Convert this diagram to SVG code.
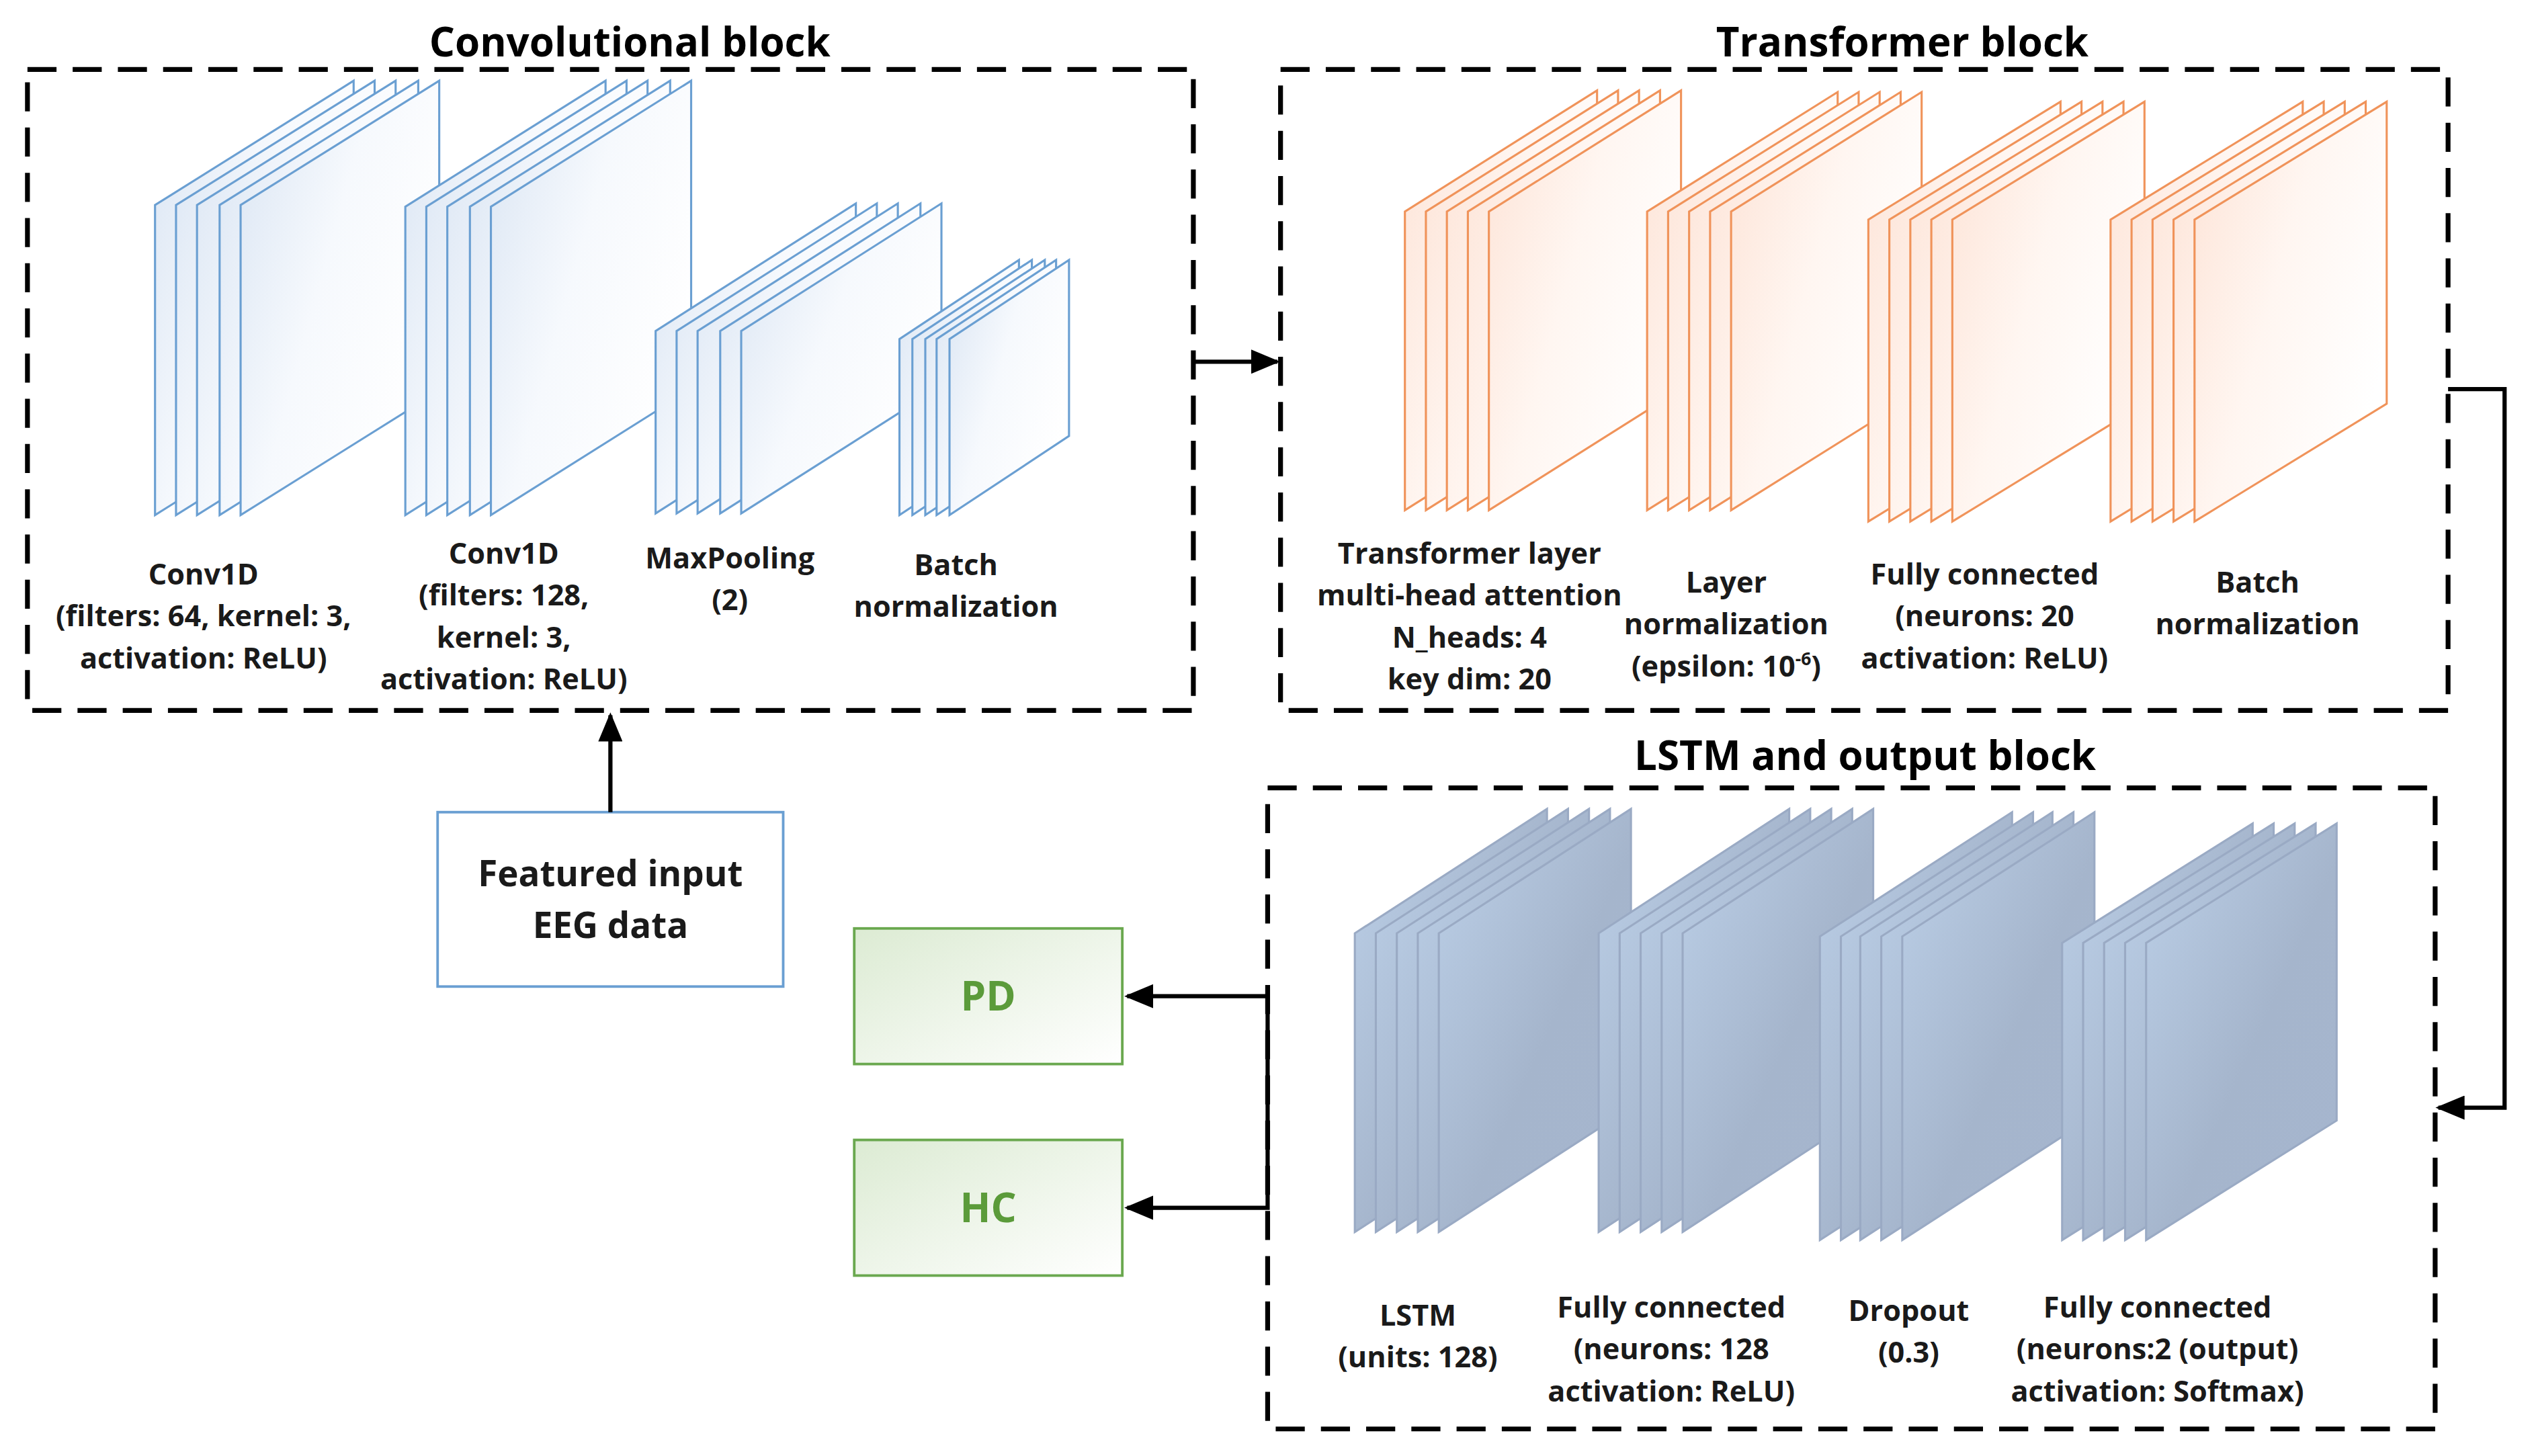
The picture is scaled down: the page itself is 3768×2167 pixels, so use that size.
<svg xmlns="http://www.w3.org/2000/svg" xmlns:xlink="http://www.w3.org/1999/xlink" width="3768" height="2167" viewBox="0 0 3768 2167">
<defs>
<linearGradient id="gb" x1="0" y1="0" x2="1" y2="0.6"><stop offset="0" stop-color="#dae5f3"/><stop offset="0.5" stop-color="#f6f9fd"/><stop offset="1" stop-color="#ffffff"/></linearGradient>
<linearGradient id="go" x1="0" y1="0" x2="1" y2="0.6"><stop offset="0" stop-color="#fde3d6"/><stop offset="0.5" stop-color="#fff6f1"/><stop offset="1" stop-color="#ffffff"/></linearGradient>
<linearGradient id="gs" x1="0" y1="0" x2="1" y2="1"><stop offset="0" stop-color="#bcd0e8"/><stop offset="0.55" stop-color="#a5b5cc"/><stop offset="1" stop-color="#a6b6cf"/></linearGradient>
<linearGradient id="gg" x1="0" y1="0" x2="1" y2="1"><stop offset="0" stop-color="#dcebd3"/><stop offset="1" stop-color="#ffffff"/></linearGradient>
<marker id="ah" viewBox="0 0 10 10" refX="9" refY="5" markerWidth="18" markerHeight="15" markerUnits="userSpaceOnUse" orient="auto" preserveAspectRatio="none"><path d="M0,0 L10,5 L0,10 z" fill="#000"/></marker>
</defs>
<style>
.blk{fill:none;stroke:#000;stroke-width:3;stroke-dasharray:18 10}
.ttl{font-family:"Open Sans","Liberation Sans",sans-serif;font-weight:bold;font-size:25px;text-anchor:middle;fill:#000}
.lb{font-family:"Open Sans","Liberation Sans",sans-serif;font-weight:bold;font-size:18px;text-anchor:middle;fill:#1a1a1a}
.sb{stroke:#6a9fd2;stroke-width:1.3;fill:url(#gb)}
.so{stroke:#f0935a;stroke-width:1.3;fill:url(#go)}
.ss{stroke:#9aaac4;stroke-width:1.3;fill:url(#gs)}
.con{fill:none;stroke:#000;stroke-width:2.6}
</style>
<rect width="3768" height="2167" fill="#fff"/>
<g transform="scale(2.4031)">
<g id="conv-block">
<rect class="blk" x="17" y="43" width="722" height="397"/>
<text class="ttl" x="390" y="35">Convolutional block</text>
</g>
<g id="transformer-block">
<rect class="blk" x="793" y="43" width="723" height="397"/>
<text class="ttl" x="1178" y="35">Transformer block</text>
</g>
<g id="lstm-block">
<rect class="blk" x="785" y="488" width="723" height="397"/>
<text class="ttl" x="1155" y="477">LSTM and output block</text>
</g>

<g id="conv1">
<path class="sb" d="M96,319 V127 L219,50 V242 Z"/>
<path class="sb" d="M109,319 V127 L232,50 V242 Z"/>
<path class="sb" d="M122,319 V127 L245,50 V242 Z"/>
<path class="sb" d="M136,319 V127 L259,50 V242 Z"/>
<path class="sb" d="M149,319 V127 L272,50 V242 Z"/>
<text class="lb" x="126" y="362">Conv1D</text><text class="lb" x="126" y="388">(filters: 64, kernel: 3,</text><text class="lb" x="126" y="414">activation: ReLU)</text>
</g>
<g id="conv2">
<path class="sb" d="M251,319 V128 L375,50 V241 Z"/>
<path class="sb" d="M264,319 V128 L388,50 V241 Z"/>
<path class="sb" d="M277,319 V128 L401,50 V241 Z"/>
<path class="sb" d="M291,319 V128 L415,50 V241 Z"/>
<path class="sb" d="M304,319 V128 L428,50 V241 Z"/>
<text class="lb" x="312" y="349">Conv1D</text><text class="lb" x="312" y="375">(filters: 128,</text><text class="lb" x="312" y="401">kernel: 3,</text><text class="lb" x="312" y="427">activation: ReLU)</text>
</g>
<g id="maxpool">
<path class="sb" d="M406,318 V205 L530,126 V239 Z"/>
<path class="sb" d="M419,318 V205 L543,126 V239 Z"/>
<path class="sb" d="M432,318 V205 L556,126 V239 Z"/>
<path class="sb" d="M446,318 V205 L570,126 V239 Z"/>
<path class="sb" d="M459,318 V205 L583,126 V239 Z"/>
<text class="lb" x="452" y="352">MaxPooling</text><text class="lb" x="452" y="378">(2)</text>
</g>
<g id="bn1">
<path class="sb" d="M557,319 V210 L631,161 V270 Z"/>
<path class="sb" d="M565,319 V210 L639,161 V270 Z"/>
<path class="sb" d="M573,319 V210 L647,161 V270 Z"/>
<path class="sb" d="M580,319 V210 L654,161 V270 Z"/>
<path class="sb" d="M588,319 V210 L662,161 V270 Z"/>
<text class="lb" x="592" y="356">Batch</text><text class="lb" x="592" y="382">normalization</text>
</g>

<g id="transformer-layer">
<path class="so" d="M870,316 V131 L989,56 V241 Z"/>
<path class="so" d="M883,316 V131 L1002,56 V241 Z"/>
<path class="so" d="M896,316 V131 L1015,56 V241 Z"/>
<path class="so" d="M909,316 V131 L1028,56 V241 Z"/>
<path class="so" d="M922,316 V131 L1041,56 V241 Z"/>
<text class="lb" x="910" y="349">Transformer layer</text><text class="lb" x="910" y="375">multi-head attention</text><text class="lb" x="910" y="401">N_heads: 4</text><text class="lb" x="910" y="427">key dim: 20</text>
</g>
<g id="layer-norm">
<path class="so" d="M1020,316 V131 L1138,57 V242 Z"/>
<path class="so" d="M1033,316 V131 L1151,57 V242 Z"/>
<path class="so" d="M1046,316 V131 L1164,57 V242 Z"/>
<path class="so" d="M1059,316 V131 L1177,57 V242 Z"/>
<path class="so" d="M1072,316 V131 L1190,57 V242 Z"/>
<text class="lb" x="1069" y="367">Layer</text><text class="lb" x="1069" y="393">normalization</text><text class="lb" x="1069" y="419">(epsilon: 10<tspan font-size="11" dy="-7">-6</tspan><tspan dy="7">)</tspan></text>
</g>
<g id="fc20">
<path class="so" d="M1157,323 V136 L1276,63 V250 Z"/>
<path class="so" d="M1170,323 V136 L1289,63 V250 Z"/>
<path class="so" d="M1183,323 V136 L1302,63 V250 Z"/>
<path class="so" d="M1196,323 V136 L1315,63 V250 Z"/>
<path class="so" d="M1209,323 V136 L1328,63 V250 Z"/>
<text class="lb" x="1229" y="362">Fully connected</text><text class="lb" x="1229" y="388">(neurons: 20</text><text class="lb" x="1229" y="414">activation: ReLU)</text>
</g>
<g id="bn2">
<path class="so" d="M1307,323 V136 L1426,63 V250 Z"/>
<path class="so" d="M1320,323 V136 L1439,63 V250 Z"/>
<path class="so" d="M1333,323 V136 L1452,63 V250 Z"/>
<path class="so" d="M1346,323 V136 L1465,63 V250 Z"/>
<path class="so" d="M1359,323 V136 L1478,63 V250 Z"/>
<text class="lb" x="1398" y="367">Batch</text><text class="lb" x="1398" y="393">normalization</text>
</g>

<g id="lstm">
<path class="ss" d="M839,763 V578 L958,501 V686 Z"/>
<path class="ss" d="M852,763 V578 L971,501 V686 Z"/>
<path class="ss" d="M865,763 V578 L984,501 V686 Z"/>
<path class="ss" d="M878,763 V578 L997,501 V686 Z"/>
<path class="ss" d="M891,763 V578 L1010,501 V686 Z"/>
<text class="lb" x="878" y="821">LSTM</text><text class="lb" x="878" y="847">(units: 128)</text>
</g>
<g id="fc128">
<path class="ss" d="M990,763 V578 L1108,501 V686 Z"/>
<path class="ss" d="M1003,763 V578 L1121,501 V686 Z"/>
<path class="ss" d="M1016,763 V578 L1134,501 V686 Z"/>
<path class="ss" d="M1029,763 V578 L1147,501 V686 Z"/>
<path class="ss" d="M1042,763 V578 L1160,501 V686 Z"/>
<text class="lb" x="1035" y="816">Fully connected</text><text class="lb" x="1035" y="842">(neurons: 128</text><text class="lb" x="1035" y="868">activation: ReLU)</text>
</g>
<g id="dropout">
<path class="ss" d="M1127,768 V580 L1246,503 V691 Z"/>
<path class="ss" d="M1140,768 V580 L1259,503 V691 Z"/>
<path class="ss" d="M1152,768 V580 L1271,503 V691 Z"/>
<path class="ss" d="M1165,768 V580 L1284,503 V691 Z"/>
<path class="ss" d="M1178,768 V580 L1297,503 V691 Z"/>
<text class="lb" x="1182" y="818">Dropout</text><text class="lb" x="1182" y="844">(0.3)</text>
</g>
<g id="fc2">
<path class="ss" d="M1277,768 V584 L1395,510 V694 Z"/>
<path class="ss" d="M1290,768 V584 L1408,510 V694 Z"/>
<path class="ss" d="M1303,768 V584 L1421,510 V694 Z"/>
<path class="ss" d="M1316,768 V584 L1434,510 V694 Z"/>
<path class="ss" d="M1329,768 V584 L1447,510 V694 Z"/>
<text class="lb" x="1336" y="816">Fully connected</text><text class="lb" x="1336" y="842">(neurons:2 (output)</text><text class="lb" x="1336" y="868">activation: Softmax)</text>
</g>

<g id="input">
<rect x="271" y="503" width="214" height="108" fill="#fff" stroke="#6a9fd2" stroke-width="1.6"/>
<text class="lb" style="font-size:22px" x="378" y="549">Featured input</text>
<text class="lb" style="font-size:22px" x="378" y="581">EEG data</text>
</g>
<g id="pd">
<rect x="529" y="575" width="166" height="84" fill="url(#gg)" stroke="#6aa84f" stroke-width="1.6"/>
<text class="lb" style="font-size:25px;fill:#5b9b3a" x="612" y="626">PD</text>
</g>
<g id="hc">
<rect x="529" y="706" width="166" height="84" fill="url(#gg)" stroke="#6aa84f" stroke-width="1.6"/>
<text class="lb" style="font-size:25px;fill:#5b9b3a" x="612" y="757">HC</text>
</g>

<g id="connectors">
<path class="con" d="M378,503 V443" marker-end="url(#ah)"/>
<path class="con" d="M739,224 H791" marker-end="url(#ah)"/>
<path class="con" d="M1516,241 H1551 V686 H1510" marker-end="url(#ah)"/>
<path class="con" d="M785,617 H698" marker-end="url(#ah)"/>
<path class="con" d="M785,617 V748 H698" marker-end="url(#ah)"/>
</g>
</g>
</svg>
